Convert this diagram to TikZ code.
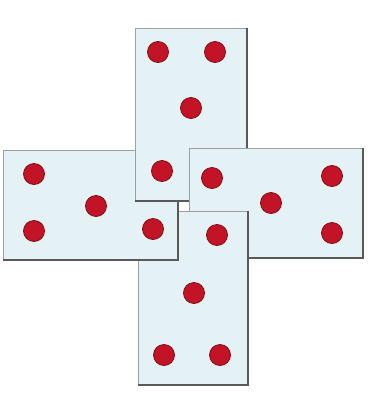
\documentclass[tikz,border=0pt]{standalone}
\begin{document}
\begin{tikzpicture}[x=1pt,y=-1pt,
  cardfill/.style={fill=cardblue},
  cardedge/.style={draw=gray!75,line width=0.9pt},
  shadowedge/.style={draw=black!65,line width=1.3pt},
  pip/.style={fill=pipred,draw=pipdark,line width=0.8pt}]
\definecolor{cardblue}{HTML}{E4F2F6}
\definecolor{pipred}{HTML}{C21426}
\definecolor{pipdark}{HTML}{7E1018}
\useasboundingbox (0,0) rectangle (374,400);
\fill[white] (0,0) rectangle (374,400);
\newcommand{\dcard}[8]{%
  \fill[cardfill] (#1,#2) rectangle (#3,#4);
  \draw[cardedge] (#1,#4) -- (#1,#2) -- (#3,#2);
  \draw[shadowedge] (#3,#2) -- (#3,#4) -- (#1,#4);
  \foreach \px/\py in {#5} \fill[pip] (\px,\py) circle (10.5);
}
% bottom card
\dcard{138}{211}{248}{385}{164/235,217/235,194/293,164/355,220/355}{}{}{}
% left card
\dcard{3}{150}{178}{260}{34/174,153/174,96/206,34/231,153/229}{}{}{}
% top card
\dcard{135}{28}{247}{201}{158/52,215/52,191/108,162/171,215/171}{}{}{}
% right card
\dcard{189}{148}{363}{258}{212/178,332/176,271/203,212/233,332/233}{}{}{}
% bottom card again, over the right card only
\begin{scope}
\clip (184,205) rectangle (262,400);
\dcard{138}{211}{248}{385}{164/235,217/235,194/293,164/355,220/355}{}{}{}
\end{scope}
\end{tikzpicture}
\end{document}
